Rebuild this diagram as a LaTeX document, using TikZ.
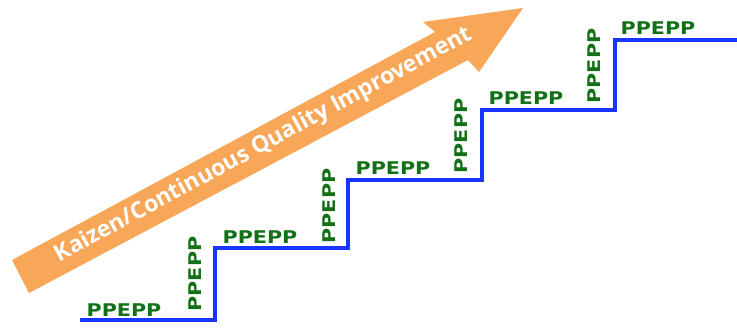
\documentclass[tikz,border=0pt]{standalone}
\usepackage{fontspec}
\setmainfont{DejaVu Sans}
\newfontfamily\lblfont{DejaVu Sans}
\newfontfamily\arrfont{Open Sans}
\definecolor{arrowfill}{RGB}{248,166,88}
\definecolor{stairblue}{RGB}{24,52,255}
\definecolor{lblgreen}{RGB}{18,112,22}
\newcommand{\ppwide}[1]{\scalebox{1.18}[1]{#1}}
\begin{document}
\begin{tikzpicture}[x=1pt,y=-1pt,
  stair/.style={draw=stairblue,line width=4pt},
  lbl/.style={text=lblgreen,font=\lblfont\bfseries\fontsize{17.5}{17.5}\selectfont,inner sep=0pt},
  vlbl/.style={lbl,rotate=90},
  arrowtext/.style={text=white,font=\arrfont\bfseries\fontsize{23}{23}\selectfont,inner sep=0pt,rotate=28.4}]
\useasboundingbox (0,0) rectangle (737,327);
% big orange arrow
\fill[arrowfill] (12,260) -- (435,32) -- (423,22) -- (523,8) -- (479,72) -- (468,60) -- (29,293) -- cycle;
\node[arrowtext] (kz) at (264,145) {Kaizen/Continuous Quality Improvement};
% staircase
\coordinate (s0) at (80,320);
\coordinate (s1) at (215,248);
\coordinate (s2) at (348,180);
\coordinate (s3) at (482,110);
\coordinate (s4) at (615,40);
\coordinate (s5) at (737,40);
\draw[stair] (s0) -| (s1) -| (s2) -| (s3) -| (s4) -- (s5);
% horizontal labels
\node[lbl] (h1) at (124,310) {\ppwide{PPEPP}};
\node[lbl] (h2) at (260,237) {\ppwide{PPEPP}};
\node[lbl] (h3) at (393,168) {\ppwide{PPEPP}};
\node[lbl] (h4) at (526,98) {\ppwide{PPEPP}};
\node[lbl] (h5) at (658,28) {\ppwide{PPEPP}};
% vertical labels
\node[vlbl] (v1) at (195,274) {\ppwide{PPEPP}};
\node[vlbl] (v2) at (329,206) {\ppwide{PPEPP}};
\node[vlbl] (v3) at (461,136) {\ppwide{PPEPP}};
\node[vlbl] (v4) at (594,66) {\ppwide{PPEPP}};
\end{tikzpicture}
\end{document}
